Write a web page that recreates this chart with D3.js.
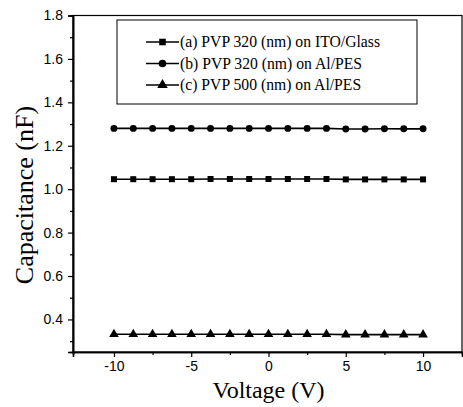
<!DOCTYPE html>
<html>
<head>
<meta charset="utf-8">
<script src="https://cdn.jsdelivr.net/npm/d3@7"></script>
<style>
  body { margin: 0; background: #fff; }
  svg { display: block; }
  .tick text { font-family: "Liberation Sans", Arial, sans-serif; }
</style>
</head>
<body>
<div id="chart"></div>
<script>
// voltage sweep, -10 .. 10 V
const voltage = [-10, -8.75, -7.5, -6.25, -5, -3.75, -2.5, -1.25, 0, 1.25, 2.5, 3.75, 5, 6.25, 7.5, 8.75, 10];
const capA = [1.046, 1.046, 1.046, 1.046, 1.046, 1.047, 1.047, 1.047, 1.047, 1.047, 1.047, 1.047, 1.045, 1.045, 1.045, 1.045, 1.045];
const capB = [1.280, 1.280, 1.280, 1.280, 1.280, 1.280, 1.280, 1.280, 1.280, 1.280, 1.280, 1.280, 1.277, 1.277, 1.278, 1.278, 1.278];
const capC = [0.332, 0.332, 0.332, 0.332, 0.332, 0.332, 0.332, 0.332, 0.332, 0.332, 0.332, 0.332, 0.330, 0.330, 0.330, 0.330, 0.330];
const seriesNames = ["(a) PVP 320 (nm) on ITO/Glass", "(b) PVP 320 (nm) on Al/PES", "(c) PVP 500 (nm) on Al/PES"];
const xTicks = [-10, -5, 0, 5, 10];
const xMinor = [-7.5, -2.5, 2.5, 7.5];
const yTicks = [0.4, 0.6, 0.8, 1.0, 1.2, 1.4, 1.6, 1.8];
const yMinor = [0.3, 0.5, 0.7, 0.9, 1.1, 1.3, 1.5, 1.7];

const W = 463, H = 407;
const margin = {left: 73, right: 1, top: 15.5, bottom: 55};
const innerW = W - margin.left - margin.right;
const innerH = H - margin.top - margin.bottom;

const svg = d3.select('#chart').append('svg')
    .attr('width', W).attr('height', H);

const x = d3.scaleLinear().domain([-12.65, 12.52]).range([0, innerW]);
const y = d3.scaleLinear().domain([0.25, 1.8]).range([innerH, 0]);

const g = svg.append('g').attr('transform', `translate(${margin.left},${margin.top})`);

// frame
g.append('rect')
    .attr('width', innerW).attr('height', innerH)
    .attr('fill', 'none').attr('stroke', '#000').attr('stroke-width', 1.2);

// axes
const xAxis = g.append('g').attr('transform', `translate(0,${innerH})`)
    .call(d3.axisBottom(x).tickValues(xTicks).tickSize(5).tickPadding(4).tickFormat(d3.format('d')));
g.append('g').attr('transform', `translate(0,${innerH})`)
    .call(d3.axisBottom(x).tickValues(xMinor).tickSize(3).tickFormat(''));
const yAxis = g.append('g')
    .call(d3.axisLeft(y).tickValues(yTicks).tickSize(5).tickPadding(5).tickFormat(d3.format('.1f')));
g.append('g')
    .call(d3.axisLeft(y).tickValues(yMinor).tickSize(3).tickFormat(''));

g.selectAll('.domain').attr('stroke-width', 1.6);
g.selectAll('.tick line').attr('stroke-width', 1.2);
g.selectAll('.tick text').attr('font-size', 14).attr('fill', '#000');
xAxis.selectAll('.tick text').text(d => d < 0 ? '-' + Math.abs(d) : d);

// axis titles
svg.append('text')
    .attr('x', margin.left + x(0)).attr('y', 398)
    .attr('text-anchor', 'middle')
    .attr('font-family', '"Liberation Serif", "Times New Roman", serif')
    .attr('font-size', 24)
    .text('Voltage (V)');
svg.append('text')
    .attr('transform', `translate(33,195) rotate(-90)`)
    .attr('text-anchor', 'middle')
    .attr('font-family', '"Liberation Serif", "Times New Roman", serif')
    .attr('font-size', 26)
    .text('Capacitance (nF)');

// series
const series = [
  {name: seriesNames[0], values: capA, shape: d3.symbolSquare, size: 36},
  {name: seriesNames[1], values: capB, shape: d3.symbolCircle, size: 38},
  {name: seriesNames[2], values: capC, shape: d3.symbolTriangle, size: 40}
];

const line = d3.line().x((d, i) => x(voltage[i])).y(d => y(d));

series.forEach(s => {
  g.append('path')
      .attr('d', line(s.values))
      .attr('fill', 'none').attr('stroke', '#000').attr('stroke-width', 1.6);
  g.selectAll(null).data(s.values).enter().append('path')
      .attr('d', d3.symbol().type(s.shape).size(s.size))
      .attr('transform', (d, i) => `translate(${x(voltage[i])},${y(d)})`)
      .attr('fill', '#000');
});

// legend
const legend = svg.append('g').attr('transform', 'translate(117,20)');
legend.append('rect')
    .attr('width', 300).attr('height', 84)
    .attr('fill', '#fff').attr('stroke', '#000').attr('stroke-width', 1);
series.forEach((s, i) => {
  const ly = 22 + i * 21.5;
  legend.append('line')
      .attr('x1', 29).attr('x2', 62).attr('y1', ly).attr('y2', ly)
      .attr('stroke', '#000').attr('stroke-width', 1.6);
  legend.append('path')
      .attr('d', d3.symbol().type(s.shape).size(s.size * 1.2))
      .attr('transform', `translate(45.5,${ly})`)
      .attr('fill', '#000');
  legend.append('text')
      .attr('x', 63).attr('y', ly + 5)
      .attr('font-family', '"Liberation Serif", "Times New Roman", serif')
      .attr('font-size', 15.7)
      .text(s.name);
});
</script>
</body>
</html>
